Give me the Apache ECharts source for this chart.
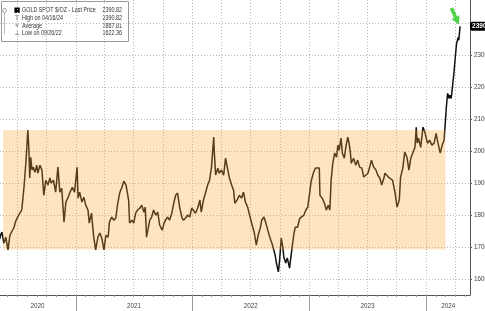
<!DOCTYPE html>
<html><head><meta charset="utf-8">
<script src="https://cdn.jsdelivr.net/npm/echarts@6/dist/echarts.min.js"></script>
<style>html,body{margin:0;padding:0;background:#fff;overflow:hidden}#c{width:485px;height:311px}</style>
</head><body><div id="c"></div>
<script>
const dates = [
'2020-05-08','2020-05-11','2020-05-15','2020-05-21','2020-05-27','2020-06-03','2020-06-09','2020-06-15','2020-06-22','2020-06-26',
'2020-07-03','2020-07-10','2020-07-16','2020-07-23','2020-07-29','2020-07-31','2020-08-04','2020-08-07','2020-08-10','2020-08-13',
'2020-08-17','2020-08-21','2020-08-26','2020-09-01','2020-09-04','2020-09-11','2020-09-17','2020-09-23','2020-09-29','2020-10-06',
'2020-10-12','2020-10-16','2020-10-23','2020-10-30','2020-11-06','2020-11-12','2020-11-18','2020-11-25','2020-12-01','2020-12-07',
'2020-12-14','2020-12-21','2020-12-28',
'2021-01-05','2021-01-08','2021-01-13','2021-01-20','2021-01-26','2021-02-01','2021-02-08','2021-02-12','2021-02-19','2021-02-26',
'2021-03-01','2021-03-04','2021-03-11','2021-03-17','2021-03-23','2021-03-30','2021-04-05','2021-04-12','2021-04-16','2021-04-23',
'2021-04-30','2021-05-06','2021-05-12','2021-05-18','2021-05-25','2021-05-31','2021-06-07','2021-06-11','2021-06-15','2021-06-18',
'2021-06-25','2021-07-01','2021-07-07','2021-07-13','2021-07-20','2021-07-26','2021-08-02','2021-08-06','2021-08-10','2021-08-20',
'2021-08-26','2021-09-01','2021-09-08','2021-09-14','2021-09-20','2021-09-28','2021-10-04','2021-10-08','2021-10-15','2021-10-21',
'2021-10-28','2021-11-03','2021-11-09','2021-11-15','2021-11-22','2021-11-29','2021-12-03','2021-12-10','2021-12-16','2021-12-23',
'2021-12-29',
'2022-01-04','2022-01-10','2022-01-17','2022-01-24','2022-01-28','2022-02-04','2022-02-11','2022-02-17','2022-02-23','2022-03-01',
'2022-03-08','2022-03-10','2022-03-14','2022-03-21','2022-03-25','2022-04-01','2022-04-08','2022-04-14','2022-04-20','2022-04-26',
'2022-05-03','2022-05-09','2022-05-13','2022-05-20','2022-05-27','2022-06-03','2022-06-09','2022-06-15','2022-06-22','2022-06-28',
'2022-07-04','2022-07-08','2022-07-13','2022-07-19','2022-07-25','2022-08-01','2022-08-05','2022-08-12','2022-08-18','2022-08-24',
'2022-08-31','2022-09-06','2022-09-12','2022-09-16','2022-09-20','2022-09-26','2022-09-30','2022-10-05','2022-10-10','2022-10-13',
'2022-10-19','2022-10-24','2022-10-31','2022-11-03','2022-11-07','2022-11-14','2022-11-18','2022-11-25','2022-12-02','2022-12-08',
'2022-12-15','2022-12-21','2022-12-27',
'2023-01-03','2023-01-06','2023-01-13','2023-01-20','2023-01-26','2023-02-01','2023-02-03','2023-02-10','2023-02-17','2023-02-23',
'2023-03-01','2023-03-06','2023-03-10','2023-03-15','2023-03-21','2023-03-27','2023-03-31','2023-04-04','2023-04-10','2023-04-14',
'2023-04-20','2023-04-26','2023-05-01','2023-05-05','2023-05-09','2023-05-12','2023-05-19','2023-05-26','2023-06-01','2023-06-07',
'2023-06-14','2023-06-20','2023-06-26','2023-07-03','2023-07-10','2023-07-14','2023-07-21','2023-07-28','2023-08-03','2023-08-09',
'2023-08-15','2023-08-22','2023-08-25','2023-08-31','2023-09-05','2023-09-11','2023-09-18','2023-09-26','2023-10-02','2023-10-05',
'2023-10-09','2023-10-13','2023-10-20','2023-10-26','2023-11-02','2023-11-08','2023-11-14','2023-11-20','2023-11-27','2023-12-01',
'2023-12-04','2023-12-08','2023-12-15','2023-12-22','2023-12-28',
'2024-01-05','2024-01-12','2024-01-19','2024-01-26','2024-02-01','2024-02-07','2024-02-14','2024-02-20','2024-02-26','2024-03-04',
'2024-03-08','2024-03-13','2024-03-15','2024-03-19','2024-03-21','2024-03-25','2024-03-28','2024-04-01','2024-04-05','2024-04-10',
'2024-04-12','2024-04-16'
];
const prices = [
1725,1737,1747,1712,1731,1691,1737,1731,1762,1778,
1794,1806,1816,1887,1966,1962,2066,2012,1916,1981,
1941,1950,1934,1956,1931,1956,1941,1862,1909,1894,
1916,1900,1909,1872,1950,1872,1884,1778,1841,1853,
1872,1887,1872,
1950,1853,1872,1841,1856,1831,1816,1775,1806,1731,
1737,1691,1731,1744,1728,1691,1737,1731,1778,1794,
1784,1791,1837,1869,1887,1906,1894,1900,1847,1775,
1784,1775,1806,1816,1822,1831,1809,1825,1731,1784,
1794,1816,1800,1809,1769,1753,1775,1784,1794,1784,
1806,1837,1862,1869,1822,1791,1784,1791,1800,1794,
1822,
1816,1806,1822,1847,1809,1847,1872,1894,1909,1950,
2044,1994,1925,1947,1931,1941,1925,1978,1972,1916,
1894,1878,1837,1847,1862,1853,1872,1841,1825,1800,
1806,1762,1744,1706,1737,1762,1784,1794,1775,1753,
1728,1712,1706,1675,1650,1622.36,1659,1728,1700,1669,
1650,1666,1634,1659,1691,1744,1762,1762,1790,1794,
1800,1816,1825,
1878,1903,1931,1947,1941,1947,1862,1853,1837,1816,
1831,1816,1909,1962,1994,1981,2019,2003,2041,1994,
1978,2019,2044,2025,1997,1962,1978,1956,1972,1950,
1947,1919,1916,1931,1956,1972,1950,1941,1925,1916,
1894,1916,1931,1934,1919,1925,1909,1869,1825,1822,
1847,1919,1947,1997,1981,1941,1978,1981,2012,2075,
2025,2041,2012,2075,2059,
2025,2034,2019,2025,2056,2025,1994,2019,2034,2137,
2181,2165,2175,2165,2181,2184,2247,2294,2337,2356,
2347,2390.82
];
const xRange = ['2020-05-09', '2024-05-17'];
const yRange = [1550, 2473];
const yGridValues = [1600, 1700, 1800, 1900, 2000, 2100, 2200, 2300, 2400];
const yLabelValues = [1600, 1700, 1800, 1900, 2000, 2100, 2200, 2300];
const quarterDates = ['2020-07-01','2020-10-01','2021-01-01','2021-04-01','2021-07-01','2021-10-01',
  '2022-01-01','2022-04-01','2022-07-01','2022-10-01','2023-01-01','2023-04-01','2023-07-01','2023-10-01',
  '2024-01-01','2024-04-01'];
const yearStartDates = ['2021-01-01','2022-01-01','2023-01-01','2024-01-01'];
const yearLabelDates = ['2020-09-03','2021-07-02','2022-07-02','2023-07-02','2024-03-10'];
const boxDates = ['2020-05-19', '2024-03-01'];
const boxValues = [1692, 2066];
const legendLabels = ['GOLD SPOT $/OZ - Last Price', 'High on 04/16/24', 'Average', 'Low on 09/26/22'];
const legendValues = ['2390.82', '2390.82', '1867.81', '1622.36'];
const legendIcons = ['\u25A0', 'T', '+', '\u22A5'];

const monthDates = [];
for (let y = 2020; y <= 2024; y++) for (let m = 1; m <= 12; m++) monthDates.push(y + '-' + String(m).padStart(2, '0') + '-01');

const ts = s => Date.parse(s + 'T00:00:00Z');
const data = dates.map((d, i) => [ts(d), prices[i]]);
const lastPrice = prices[prices.length - 1];
const lastDate = ts(dates[dates.length - 1]);
const xMin = ts(xRange[0]), xMax = ts(xRange[1]);
const monthTicks = monthDates.map(ts).filter(v => v >= xMin && v <= xMax);
const FONT = "'Liberation Sans', Arial, sans-serif";
const SX = 0.77;

const legendChildren = [
  { type: 'rect', shape: { x: 0.5, y: 0.5, width: 127, height: 40 }, style: { fill: '#fff', stroke: '#9a9a9a', lineWidth: 1 } },
  { type: 'circle', shape: { cx: 3.5, cy: 9.5, r: 2 }, style: { fill: '#fff', stroke: '#888', lineWidth: 0.8 } },
  { type: 'line', shape: { x1: 3.5, y1: 12, x2: 3.5, y2: 33 }, style: { stroke: '#aaa', lineWidth: 0.8 } }
];
legendLabels.forEach((t, i) => {
  const cy = 9.5 + i * 7.6;
  legendChildren.push({ type: 'text', style: { x: 16, y: cy, text: legendIcons[i], fontSize: i === 0 ? 7 : 6.5, fill: i === 0 ? '#000' : '#555', fontFamily: 'DejaVu Sans', align: 'center', verticalAlign: 'middle' } });
  legendChildren.push({ type: 'text', x: 21, y: cy, scaleX: SX, style: { x: 0, y: 0, text: t, fontSize: 7, fill: '#333', fontFamily: FONT, verticalAlign: 'middle' } });
  legendChildren.push({ type: 'text', x: 121, y: cy, scaleX: SX, style: { x: 0, y: 0, text: legendValues[i], fontSize: 7, fill: '#333', fontFamily: FONT, align: 'right', verticalAlign: 'middle' } });
});

const chart = echarts.init(document.getElementById('c'), null, { renderer: 'canvas' });
chart.setOption({
  animation: false,
  backgroundColor: '#fff',
  textStyle: { fontFamily: FONT },
  grid: [
    { left: 0, right: 15, top: 0, bottom: 16, containLabel: false, outerBoundsMode: 'none' },
    { left: 0, right: 15, top: 0, bottom: 16, containLabel: false, outerBoundsMode: 'none' }
  ],
  xAxis: [
    { type: 'value', gridIndex: 0, min: xMin, max: xMax,
      axisLine: { show: true, lineStyle: { color: '#555', width: 1 } },
      axisTick: { show: true, customValues: yearStartDates.map(ts), length: 16, lineStyle: { color: '#999' } },
      axisLabel: { customValues: yearLabelDates.map(ts), formatter: v => String(new Date(v).getUTCFullYear()), margin: 8, fontSize: 6.3, color: '#444', fontFamily: FONT },
      splitLine: { show: false } },
    { type: 'value', gridIndex: 1, min: xMin, max: xMax,
      axisLine: { show: false },
      axisTick: { show: true, customValues: monthTicks, length: 2, lineStyle: { color: '#999' } },
      axisLabel: { show: false }, splitLine: { show: false } }
  ],
  yAxis: [
    { type: 'value', gridIndex: 0, position: 'right', min: yRange[0], max: yRange[1],
      splitLine: { show: false },
      axisLine: { show: true, lineStyle: { color: '#555' } },
      axisTick: { show: true, customValues: yLabelValues, length: 2, lineStyle: { color: '#555' } },
      axisLabel: { customValues: yLabelValues, formatter: v => String(v), margin: 4, fontSize: 6.3, color: '#444', fontFamily: FONT } },
    { type: 'value', gridIndex: 1, show: false, min: yRange[0], max: yRange[1] }
  ],
  series: [
    { type: 'line', xAxisIndex: 0, yAxisIndex: 0, data: data, silent: true, showSymbol: false, lineStyle: { opacity: 0 }, z: 1,
      markLine: { z: 1, silent: true, symbol: ['none', 'none'], label: { show: false }, animation: false,
        lineStyle: { type: [1, 2], color: '#b8b8b8', width: 1 },
        data: yGridValues.map(v => ({ yAxis: v })).concat(quarterDates.map(d => ({ xAxis: ts(d) }))) } },
    { type: 'line', name: 'GOLD SPOT $/OZ', xAxisIndex: 0, yAxisIndex: 0, data: data, showSymbol: false, z: 2,
      lineStyle: { color: '#111', width: 1.5 },
      endLabel: { show: true, formatter: () => lastPrice.toFixed(2), distance: 10, backgroundColor: '#000', color: '#fff',
        fontSize: 6.5, fontWeight: 'bold', padding: [1, 2, 1, 2], borderRadius: 2, fontFamily: FONT },
      markPoint: { silent: true, animation: false,
        symbol: 'path://M3,0 L7,0 L7,10 L10,10 L5,18 L0,10 L3,10 Z', symbolSize: [9, 18], symbolRotate: 24, symbolOffset: [-5, -10],
        itemStyle: { color: '#4fd34a' }, label: { show: false },
        data: [{ coord: [lastDate, lastPrice] }] } },
    { type: 'line', xAxisIndex: 0, yAxisIndex: 0, data: data, silent: true, showSymbol: false, lineStyle: { opacity: 0 }, z: 3,
      markArea: { z: 3, silent: true, animation: false, itemStyle: { color: 'rgba(245,170,45,0.30)' },
        data: [[{ xAxis: ts(boxDates[0]), yAxis: boxValues[1] }, { xAxis: ts(boxDates[1]), yAxis: boxValues[0] }]] } }
  ],
  graphic: [{ type: 'group', left: 1, top: 1, z: 100, children: legendChildren }]
});
</script></body></html>
